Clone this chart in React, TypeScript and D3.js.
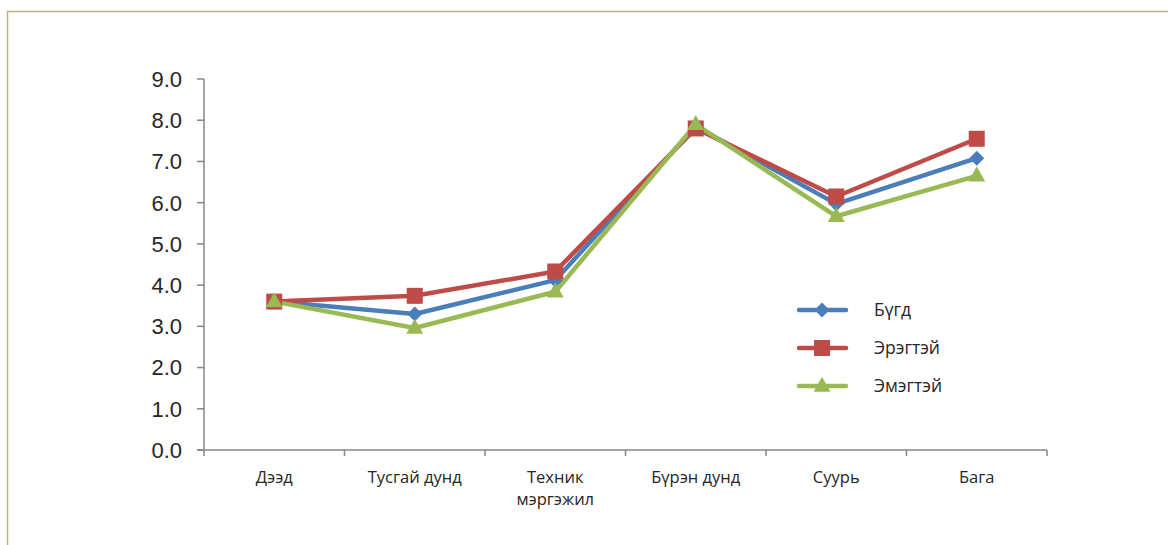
import React from "react";
import * as d3 from "d3";

const categories = ["Дээд", "Тусгай дунд", "Техник\nмэргэжил", "Бүрэн дунд", "Суурь", "Бага"];
const seriesNames = ["Бүгд", "Эрэгтэй", "Эмэгтэй"];
const bugdValues = [3.6, 3.3, 4.12, 7.85, 5.97, 7.08];
const ergteiValues = [3.6, 3.74, 4.33, 7.8, 6.15, 7.55];
const emegteiValues = [3.6, 2.96, 3.84, 7.9, 5.67, 6.65];
const yTicks = [0, 1, 2, 3, 4, 5, 6, 7, 8, 9];
const colors = ["#4a7ebb", "#be4b48", "#98b954"];
const markers = ["diamond", "square", "triangle"];

const W = 1168;
const H = 545;
const left = 204;
const right = 1047;
const top = 79;
const bottom = 450;

function Marker({ type, x, y, color }: { type: string; x: number; y: number; color: string }) {
  if (type === "diamond") {
    const r = 7.5;
    return <path d={`M${x},${y - r}L${x + r},${y}L${x},${y + r}L${x - r},${y}Z`} fill={color} />;
  }
  if (type === "square") {
    const s = 16;
    return <rect x={x - s / 2} y={y - s / 2} width={s} height={s} fill={color} />;
  }
  const h = 15;
  const w = 17;
  return <path d={`M${x},${y - h * 0.62}L${x + w / 2},${y + h * 0.38}L${x - w / 2},${y + h * 0.38}Z`} fill={color} />;
}

export default function App() {
  const x = d3.scaleBand<string>().domain(categories).range([left, right]);
  const y = d3.scaleLinear().domain([0, 9]).range([bottom, top]);
  const allSeries = [bugdValues, ergteiValues, emegteiValues];
  const line = d3
    .line<number>()
    .x((_, i) => (x(categories[i]) as number) + x.bandwidth() / 2)
    .y((d) => y(d));
  const axisColor = "#868686";
  const textColor = "#262626";
  const labelFont = "'Open Sans', 'Noto Sans', sans-serif";
  const boundaries = d3.range(categories.length + 1).map((i) => left + i * x.bandwidth());

  return (
    <svg width={W} height={H} style={{ position: "absolute", left: 0, top: 0, background: "#fff" }}>
      <rect x={7.5} y={11.5} width={W + 20} height={H + 20} fill="#fff" stroke="#c4b183" strokeWidth={1.5} />
      {/* y axis */}
      <line x1={left} x2={left} y1={top} y2={bottom} stroke={axisColor} strokeWidth={1.5} />
      {yTicks.map((t) => (
        <g key={t}>
          <line x1={left - 7} x2={left} y1={y(t)} y2={y(t)} stroke={axisColor} strokeWidth={1.5} />
          <text
            x={182}
            y={y(t)}
            dy="0.36em"
            textAnchor="end"
            fontFamily="'Liberation Sans', Arial, sans-serif"
            fontSize={22}
            fill={textColor}
          >
            {t.toFixed(1)}
          </text>
        </g>
      ))}
      {/* x axis */}
      <line x1={left - 7} x2={right} y1={bottom} y2={bottom} stroke={axisColor} strokeWidth={1.5} />
      {boundaries.map((b, i) => (
        <line key={i} x1={b} x2={b} y1={bottom} y2={bottom + 6} stroke={axisColor} strokeWidth={1.5} />
      ))}
      {categories.map((c) => {
        const lines = c.split("\n");
        return (
          <text
            key={c}
            x={(x(c) as number) + x.bandwidth() / 2}
            y={483}
            textAnchor="middle"
            fontFamily={labelFont}
            fontSize={16.5}
            fill={textColor}
          >
            {lines.map((l, i) => (
              <tspan key={i} x={(x(c) as number) + x.bandwidth() / 2} dy={i === 0 ? 0 : 22}>
                {l}
              </tspan>
            ))}
          </text>
        );
      })}
      {/* series */}
      {allSeries.map((vals, si) => (
        <g key={si}>
          <path d={line(vals) || ""} fill="none" stroke={colors[si]} strokeWidth={4.5} strokeLinejoin="round" strokeLinecap="round" />
        </g>
      ))}
      {allSeries.map((vals, si) => (
        <g key={"m" + si}>
          {vals.map((v, i) => (
            <Marker
              key={i}
              type={markers[si]}
              x={(x(categories[i]) as number) + x.bandwidth() / 2}
              y={y(v)}
              color={colors[si]}
            />
          ))}
        </g>
      ))}
      {/* legend */}
      {seriesNames.map((n, i) => {
        const ly = 310 + i * 38;
        return (
          <g key={n}>
            <line x1={799} x2={846} y1={ly} y2={ly} stroke={colors[i]} strokeWidth={4.5} strokeLinecap="round" />
            <Marker type={markers[i]} x={822} y={ly} color={colors[i]} />
            <text x={874} y={ly} dy="0.36em" fontFamily={labelFont} fontSize={17.5} fill={textColor}>
              {n}
            </text>
          </g>
        );
      })}
    </svg>
  );
}
